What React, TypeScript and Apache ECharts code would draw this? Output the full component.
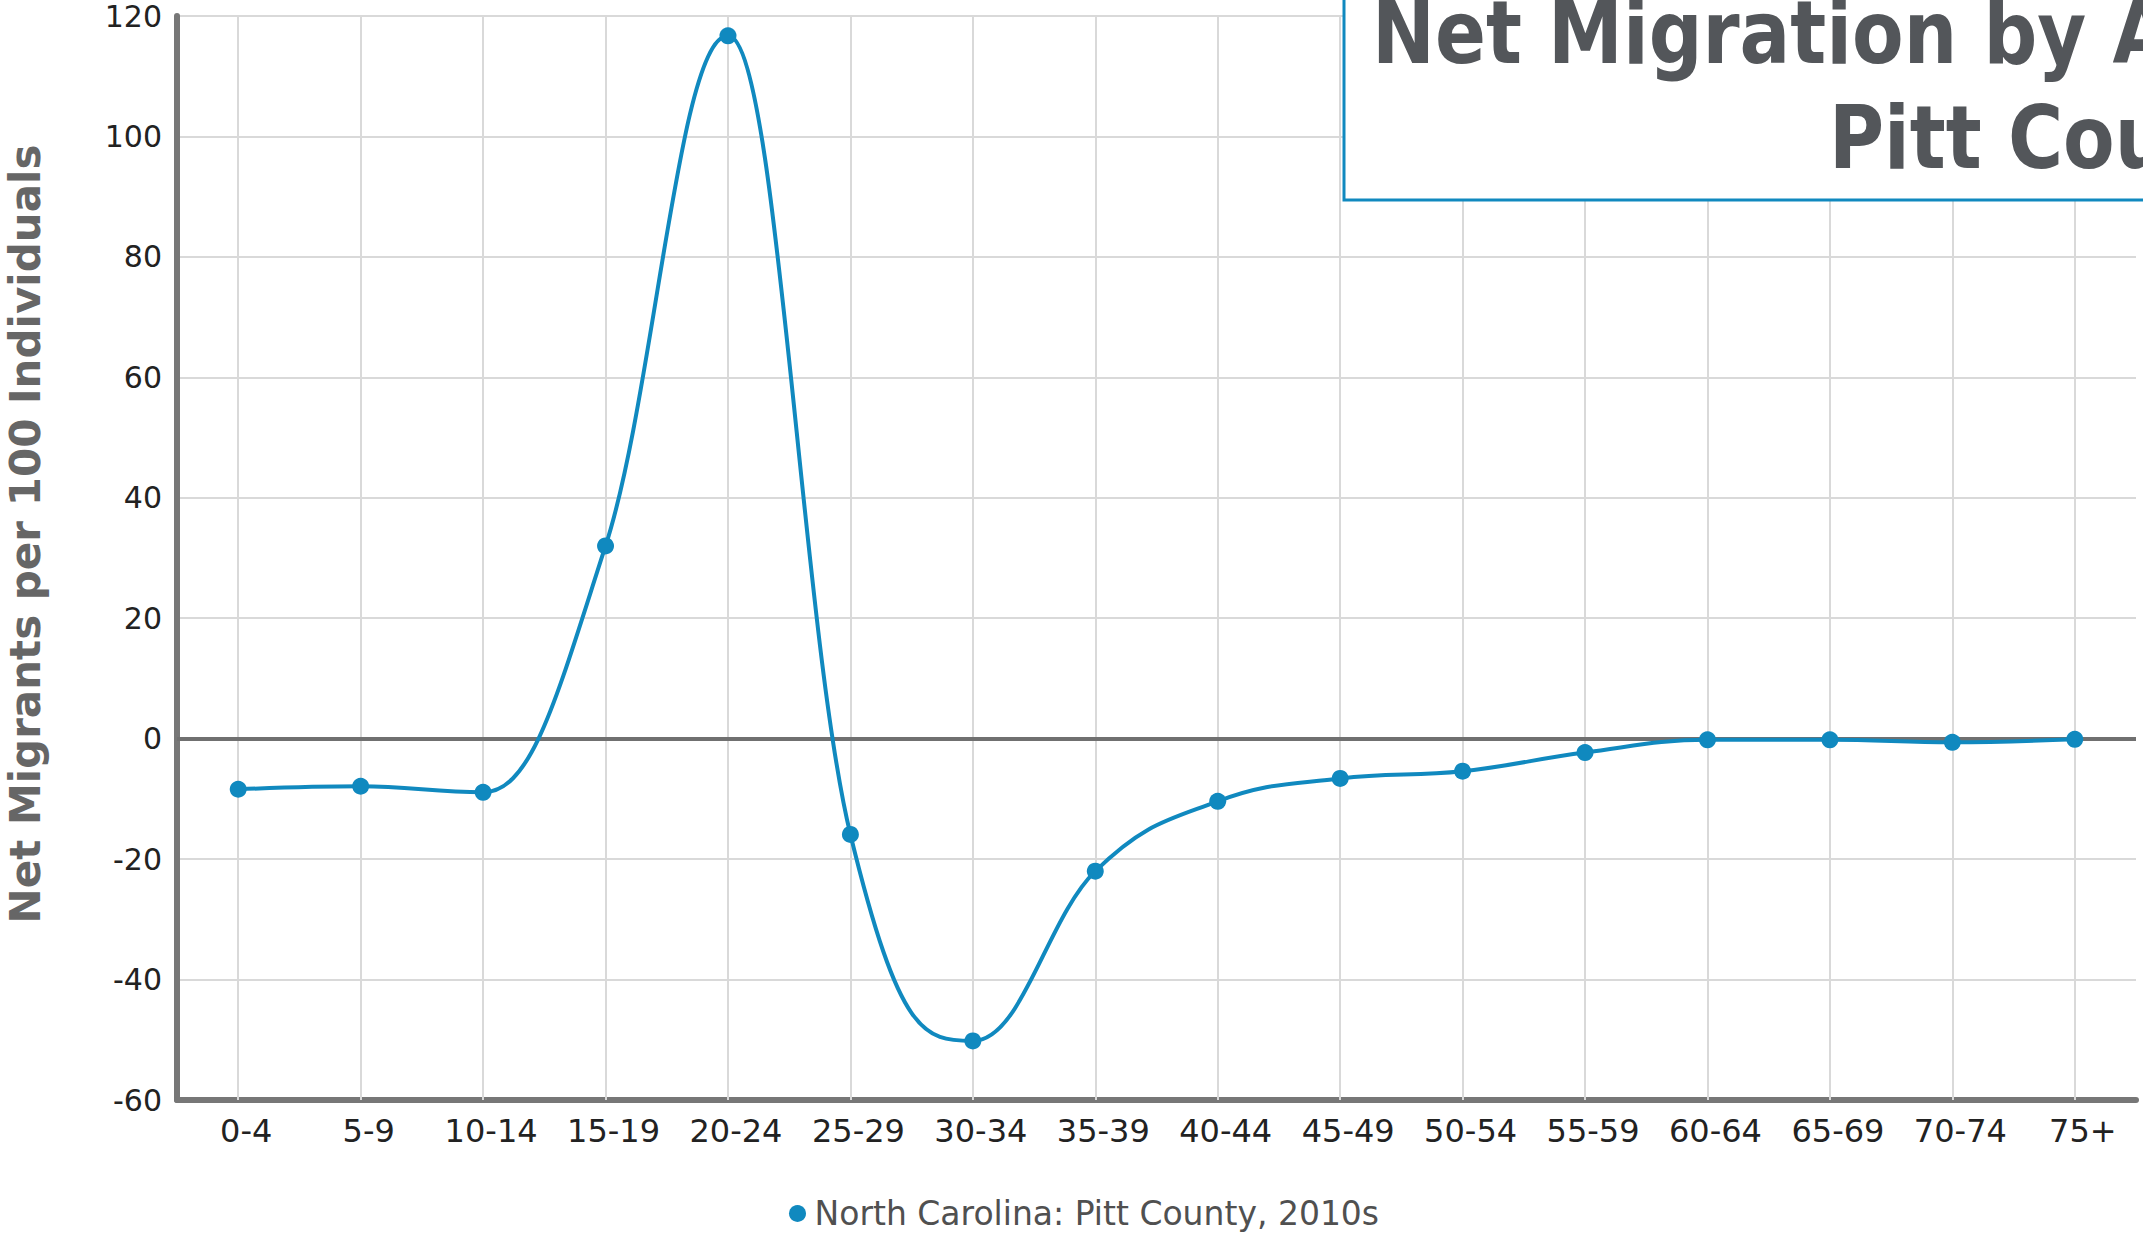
import React, { useEffect, useRef } from "react";
import * as echarts from "echarts";

const categories = ["0-4", "5-9", "10-14", "15-19", "20-24", "25-29", "30-34", "35-39", "40-44", "45-49", "50-54", "55-59", "60-64", "65-69", "70-74", "75+"];
const netMigration = [-8.4, -7.9, -8.9, 32.0, 116.7, -15.9, -50.2, -22.0, -10.4, -6.6, -5.4, -2.3, -0.2, -0.2, -0.6, -0.1];
const seriesName = "North Carolina: Pitt County, 2010s";
const yTicks = { min: -60, max: 120, interval: 20 };
const titleLines = ["Net Migration by Age", "Pitt County"];
const yAxisTitle = "Net Migrants per 100 Individuals";

const BLUE = "#1089bf";

// Highcharts-style spline control points, computed in pixel space from the axis scales
function splineControls(pts: number[][]) {
  const smoothing = 1.5;
  const denom = smoothing + 1;
  return pts.map((p, i) => {
    const prev = pts[i - 1];
    const next = pts[i + 1];
    if (!prev || !next) return { lx: p[0], ly: p[1], rx: p[0], ry: p[1] };
    const [x, y] = p;
    const lx = (smoothing * x + prev[0]) / denom;
    let ly = (smoothing * y + prev[1]) / denom;
    const rx = (smoothing * x + next[0]) / denom;
    let ry = (smoothing * y + next[1]) / denom;
    let corr = 0;
    if (rx !== lx) corr = ((ry - ly) * (rx - x)) / (rx - lx) + y - ry;
    ly += corr;
    ry += corr;
    if (ly > prev[1] && ly > y) { ly = Math.max(prev[1], y); ry = 2 * y - ly; }
    else if (ly < prev[1] && ly < y) { ly = Math.min(prev[1], y); ry = 2 * y - ly; }
    if (ry > next[1] && ry > y) { ry = Math.max(next[1], y); ly = 2 * y - ry; }
    else if (ry < next[1] && ry < y) { ry = Math.min(next[1], y); ly = 2 * y - ry; }
    return { lx, ly, rx, ry };
  });
}

export default function App() {
  const ref = useRef<HTMLDivElement>(null);
  useEffect(() => {
    const chart = echarts.init(ref.current!, null, { renderer: "svg" });
    chart.setOption({
      animation: false,
      backgroundColor: "#ffffff",
      grid: { left: 177, right: 7, top: 16, bottom: 135, containLabel: false },
      legend: {
        data: [{ name: seriesName, icon: "circle" }],
        left: 784,
        top: 1192,
        itemWidth: 24,
        itemHeight: 17,
        textStyle: { fontFamily: "DejaVu Sans", fontSize: 33, color: "#505050" },
      },
      xAxis: {
        type: "category",
        data: categories,
        boundaryGap: true,
        axisLine: { show: true, onZero: false, lineStyle: { color: "#777777", width: 6 } },
        axisTick: { show: false },
        splitLine: { show: false },
        axisLabel: { fontFamily: "DejaVu Sans", fontSize: 32, color: "#222222", margin: 15, padding: [0, 0, 0, 16] },
      },
      yAxis: {
        type: "value",
        min: yTicks.min,
        max: yTicks.max,
        interval: yTicks.interval,
        axisLine: { show: true, lineStyle: { color: "#777777", width: 6 } },
        axisTick: { show: false },
        splitLine: { show: true, lineStyle: { color: "#d9d9d9", width: 2 } },
        axisLabel: { fontFamily: "DejaVu Sans", fontSize: 30, color: "#222222", margin: 15 },
      },
      series: [
        {
          name: seriesName,
          type: "line",
          data: netMigration,
          symbol: "circle",
          symbolSize: 17,
          itemStyle: { color: BLUE },
          lineStyle: { color: BLUE, width: 0, opacity: 0 },
          z: 6,
          markLine: {
            silent: true,
            symbol: ["none", "none"],
            label: { show: false },
            animation: false,
            z: 1,
            data: [
              ...categories.map((c) => ({ xAxis: c, lineStyle: { color: "#d9d9d9", width: 2, type: "solid" } })),
              { yAxis: 0, lineStyle: { color: "#707070", width: 4, type: "solid" } },
            ],
          },
        },
        {
          name: "spline",
          type: "custom",
          z: 5,
          silent: true,
          data: netMigration.map((v, i) => [i, v]),
          encode: { x: 0, y: 1 },
          renderItem: (params: any, api: any) => {
            const i = params.dataIndex;
            if (i === 0) return { type: "group", children: [] };
            const pts = netMigration.map((v, k) => api.coord([k, v]));
            const c = splineControls(pts);
            const a = pts[i - 1];
            const b = pts[i];
            const d = `M${a[0]},${a[1]} C${c[i - 1].rx},${c[i - 1].ry} ${c[i].lx},${c[i].ly} ${b[0]},${b[1]}`;
            return {
              type: "path",
              shape: { pathData: d },
              style: { fill: "none", stroke: BLUE, lineWidth: 4 },
            };
          },
        },
      ],
      graphic: [
        {
          type: "rect",
          z: 100,
          shape: { x: 1344, y: -10, width: 900, height: 210 },
          style: { fill: "#ffffff", stroke: BLUE, lineWidth: 3 },
        },
        {
          type: "text",
          z: 101,
          x: 1372,
          y: 32,
          scaleX: 0.95,
          style: {
            text: titleLines[0],
            fontFamily: "DejaVu Sans Condensed, DejaVu Sans, sans-serif",
            fontWeight: "bold",
            fontSize: 88,
            fill: "#53565a",
            align: "left",
            verticalAlign: "middle",
          },
        },
        {
          type: "text",
          z: 101,
          x: 1829,
          y: 137,
          scaleX: 0.95,
          style: {
            text: titleLines[1],
            fontFamily: "DejaVu Sans Condensed, DejaVu Sans, sans-serif",
            fontWeight: "bold",
            fontSize: 88,
            fill: "#53565a",
            align: "left",
            verticalAlign: "middle",
          },
        },
        {
          type: "text",
          x: 25,
          y: 534,
          rotation: Math.PI / 2,
          style: {
            text: yAxisTitle,
            fontFamily: "DejaVu Sans",
            fontWeight: "bold",
            fontSize: 42,
            fill: "#666666",
            align: "center",
            verticalAlign: "middle",
          },
        },
      ],
    });
    return () => chart.dispose();
  }, []);
  return <div ref={ref} style={{ position: "absolute", left: 0, top: 0, width: 2143, height: 1235 }} />;
}
